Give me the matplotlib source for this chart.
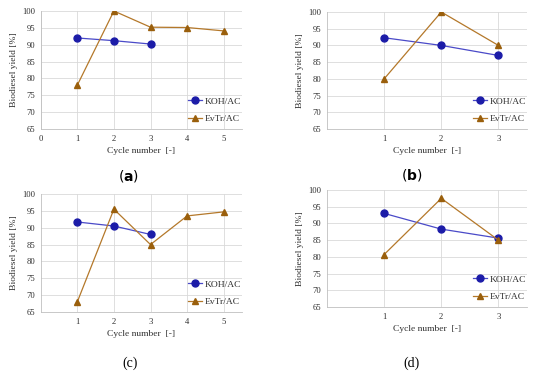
import matplotlib
matplotlib.use("Agg")
import matplotlib.pyplot as plt

# data
cycles_a = [1, 2, 3, 4, 5]
koh_a = [92.0, 91.2, 90.2]
evtr_a = [78.0, 100.0, 95.2, 95.1, 94.1]

cycles_b = [1, 2, 3]
koh_b = [92.3, 90.0, 87.0]
evtr_b = [80.0, 100.0, 90.0]

cycles_c = [1, 2, 3, 4, 5]
koh_c = [91.7, 90.5, 88.0]
evtr_c = [68.0, 95.5, 85.0, 93.5, 94.7]

cycles_d = [1, 2, 3]
koh_d = [93.0, 88.3, 85.6]
evtr_d = [80.7, 97.5, 85.0]

yticks = [65, 70, 75, 80, 85, 90, 95, 100]

KOH_COLOR = "#1c1ca8"
KOH_LINE = "#4a4ac8"
EVTR_COLOR = "#9a5f0c"
EVTR_LINE = "#b4782a"
TEXT = "#303030"

plt.rcParams['font.family'] = ['Liberation Serif', 'DejaVu Serif']

fig = plt.figure(figsize=(5.5, 3.77), dpi=100)

W, H = 550.0, 377.0
def px_axes(left, right, top, bottom):
    return fig.add_axes([left / W, 1 - bottom / H, (right - left) / W, (bottom - top) / H])

panels = [
    (px_axes(40.7, 242, 11, 129), cycles_a, koh_a, evtr_a, 5.5, [0, 1, 2, 3, 4, 5]),
    (px_axes(327, 527, 12, 129), cycles_b, koh_b, evtr_b, 3.5, [1, 2, 3]),
    (px_axes(40.7, 242, 194, 312), cycles_c, koh_c, evtr_c, 5.5, [1, 2, 3, 4, 5]),
    (px_axes(327, 527, 190, 307), cycles_d, koh_d, evtr_d, 3.5, [1, 2, 3]),
]

for ax, cyc, koh, evtr, xmax, xt in panels:
    ax.plot(cyc[:len(koh)], koh, color=KOH_LINE, lw=0.9, marker="o", ms=5,
            mfc=KOH_COLOR, mec=KOH_COLOR, label="KOH/AC", zorder=3)
    ax.plot(cyc, evtr, color=EVTR_LINE, lw=0.9, marker="^", ms=5,
            mfc=EVTR_COLOR, mec=EVTR_COLOR, label="EvTr/AC", zorder=3)
    ax.set_xlim(0, xmax)
    ax.set_ylim(65, 100)
    ax.set_yticks(yticks)
    ax.set_xticks(xt)
    ax.grid(True, color="#d9d9d9", lw=0.6)
    ax.set_axisbelow(True)
    for s in ["top", "right"]:
        ax.spines[s].set_visible(False)
    for s in ["left", "bottom"]:
        ax.spines[s].set_color("#bfbfbf")
        ax.spines[s].set_linewidth(0.6)
    ax.tick_params(length=0, labelsize=6.2, colors=TEXT, pad=4)
    ax.set_xlabel("Cycle number  [-]", fontsize=6.8, color=TEXT, labelpad=3)
    ax.set_ylabel("Biodiesel yield [%]", fontsize=6.8, color=TEXT, labelpad=3)
    ax.legend(loc="lower right", bbox_to_anchor=(1.04, -0.02), frameon=False,
              fontsize=6.8, handlelength=1.5, handletextpad=0.3, labelspacing=0.9,
              labelcolor=TEXT)

fig.text(128 / W, 1 - 176 / H, r"($\mathbf{a}$)", fontsize=10, ha="center", va="center",
         family="DejaVu Sans")
fig.text(412 / W, 1 - 175 / H, r"($\mathbf{b}$)", fontsize=10, ha="center", va="center",
         family="DejaVu Sans")
fig.text(130 / W, 1 - 363 / H, "(c)", fontsize=10, ha="center", va="center")
fig.text(412 / W, 1 - 363 / H, "(d)", fontsize=10, ha="center", va="center")

fig.savefig("out.png", dpi=100)
